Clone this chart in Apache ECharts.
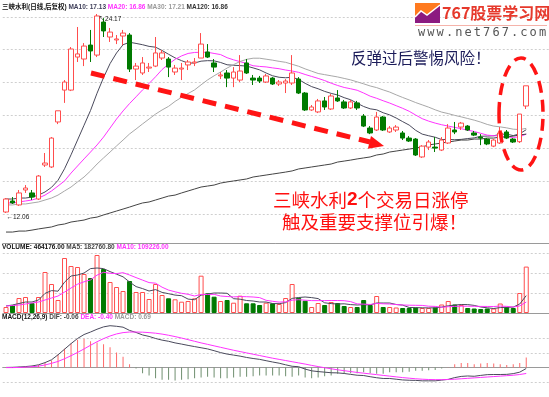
<!DOCTYPE html>
<html>
<head>
<meta charset="utf-8">
<title>三峡水利</title>
<script src="https://cdn.jsdelivr.net/npm/echarts@6.0.0/dist/echarts.min.js"></script>
<style>
html, body { margin: 0; padding: 0; background: #fff; }
#chart { width: 549px; height: 397px; }
</style>
</head>
<body>
<div id="chart"></div>
<script>
// 日K线数据
var kOpen = [
  12.12, 12.79, 12.55, 13.46, 13.28, 12.91, 14.98, 14.86, 17.60, 19.54,
  19.54, 21.55, 21.43, 22.28, 21.67, 23.68, 22.77, 22.59, 22.83, 22.89,
  20.82, 20.58, 20.88, 21.00, 21.49, 21.43, 20.64, 20.82, 21.07, 21.19,
  21.49, 21.86, 21.19, 20.40, 20.58, 20.27, 20.15, 21.19, 20.27, 20.27,
  20.03, 20.27, 19.91, 19.97, 19.97, 20.21, 19.36, 18.33, 18.21, 18.88,
  18.39, 19.06, 18.82, 18.45, 18.76, 17.96, 17.23, 17.11, 17.90, 16.99,
  17.11, 16.93, 16.62, 16.56, 15.47, 16.07, 16.07, 15.89, 16.32, 17.11,
  17.29, 17.35, 16.93, 16.68, 16.56, 16.13, 16.32, 16.99, 16.56, 16.40,
  18.57
];
var kClose = [
  12.91, 12.67, 13.28, 13.58, 13.03, 14.31, 15.10, 16.62, 18.28, 20.03,
  22.04, 21.74, 22.22, 21.92, 24.05, 23.14, 23.07, 22.65, 23.01, 20.82,
  21.00, 21.19, 20.94, 21.80, 21.80, 20.94, 20.88, 20.88, 21.25, 21.25,
  22.34, 21.55, 20.94, 20.46, 20.27, 20.64, 20.70, 20.58, 20.15, 20.09,
  20.40, 19.91, 20.03, 20.09, 20.58, 19.36, 18.33, 18.51, 18.88, 18.51,
  19.18, 18.88, 18.45, 18.82, 18.45, 17.35, 16.93, 17.90, 17.11, 17.23,
  17.29, 16.62, 16.44, 15.59, 16.13, 16.38, 16.01, 16.50, 17.23, 16.99,
  17.53, 17.11, 16.80, 16.62, 16.26, 16.50, 16.93, 16.62, 16.38, 18.08,
  19.80
];
var kLow = [
  12.06, 12.61, 12.49, 13.28, 12.85, 12.85, 14.86, 14.80, 17.47, 18.76,
  19.48, 21.25, 21.00, 21.25, 21.55, 22.77, 22.47, 22.34, 22.28, 20.64,
  20.15, 20.46, 20.64, 20.94, 21.37, 20.33, 20.46, 20.15, 20.76, 21.00,
  21.49, 21.49, 20.64, 20.21, 19.72, 19.72, 20.03, 20.52, 19.85, 19.97,
  19.97, 19.85, 19.79, 19.36, 19.85, 19.30, 18.27, 18.27, 18.14, 18.33,
  18.33, 18.82, 18.39, 18.39, 18.33, 17.29, 16.86, 17.05, 17.05, 16.93,
  16.99, 16.50, 16.38, 15.53, 15.41, 15.89, 15.77, 15.83, 16.26, 16.86,
  17.11, 17.05, 16.74, 16.19, 16.19, 16.07, 16.26, 16.56, 16.32, 16.32,
  18.39
];
var kHigh = [
  12.97, 13.03, 13.46, 13.76, 13.46, 14.37, 15.71, 16.68, 18.28, 20.15,
  22.16, 23.38, 22.40, 23.20, 24.17, 23.92, 23.32, 22.89, 23.20, 23.01,
  21.19, 21.55, 21.19, 22.77, 21.98, 21.55, 21.07, 21.19, 21.37, 21.49,
  23.01, 22.34, 21.43, 20.64, 20.76, 20.94, 21.67, 21.43, 20.46, 20.40,
  20.52, 20.33, 20.15, 20.21, 21.67, 20.33, 19.42, 18.63, 19.00, 19.12,
  19.30, 19.54, 18.94, 18.94, 18.88, 18.08, 17.35, 18.21, 17.96, 17.35,
  17.41, 17.05, 16.74, 16.62, 16.19, 16.50, 16.68, 16.68, 17.47, 17.60,
  17.60, 17.41, 17.05, 16.86, 16.62, 16.56, 17.29, 17.11, 16.62, 18.08,
  19.80
];

// 均线
var ma10 = [
  12.91, 12.91, 12.97, 12.97, 13.03, 13.15, 13.34, 13.62, 14.05, 14.75,
  15.60, 16.50, 17.40, 18.30, 19.35, 20.30, 21.15, 21.80, 22.30, 22.45,
  22.38, 22.30, 22.20, 22.15, 21.95, 21.72, 21.50, 21.33, 21.18, 21.19,
  21.30, 21.33, 21.32, 21.22, 21.08, 21.05, 21.03, 21.00, 20.89, 20.77,
  20.58, 20.41, 20.32, 20.29, 20.32, 20.19, 19.95, 19.75, 19.62, 19.46,
  19.34, 19.24, 19.08, 18.95, 18.74, 18.54, 18.40, 18.34, 18.16, 18.03,
  17.84, 17.62, 17.41, 17.09, 16.86, 16.76, 16.67, 16.53, 16.54, 16.52,
  16.54, 16.59, 16.63, 16.73, 16.74, 16.76, 16.85, 16.86, 16.77, 16.88,
  17.13
];
var ma20 = [
  12.67, 12.67, 12.73, 12.79, 12.85, 12.97, 13.15, 13.40, 13.70, 14.01,
  14.49, 14.92, 15.35, 15.77, 16.20, 16.68, 17.23, 17.78, 18.27, 18.72,
  19.13, 19.55, 19.94, 20.35, 20.79, 21.12, 21.41, 21.62, 21.77, 21.83,
  21.84, 21.84, 21.77, 21.70, 21.51, 21.38, 21.27, 21.16, 21.02, 20.98,
  20.95, 20.89, 20.84, 20.76, 20.70, 20.62, 20.49, 20.37, 20.25, 20.12,
  19.96, 19.82, 19.70, 19.62, 19.53, 19.36, 19.17, 19.04, 18.89, 18.75,
  18.59, 18.43, 18.25, 18.02, 17.80, 17.65, 17.53, 17.43, 17.35, 17.27,
  17.19, 17.10, 17.02, 16.91, 16.80, 16.76, 16.76, 16.69, 16.66, 16.70,
  16.86
];
var ma30 = [
  12.55, 12.55, 12.61, 12.61, 12.67, 12.73, 12.85, 12.97, 13.15, 13.40,
  13.64, 13.95, 14.25, 14.62, 15.04, 15.41, 15.77, 16.14, 16.50, 16.87,
  17.17, 17.48, 17.78, 18.08, 18.33, 18.55, 18.85, 19.10, 19.33, 19.55,
  19.86, 20.16, 20.41, 20.64, 20.88, 21.09, 21.28, 21.41, 21.48, 21.48,
  21.42, 21.36, 21.29, 21.23, 21.11, 20.99, 20.83, 20.69, 20.55, 20.48,
  20.41, 20.34, 20.25, 20.16, 20.04, 19.92, 19.79, 19.69, 19.55, 19.42,
  19.25, 19.09, 18.94, 18.78, 18.64, 18.50, 18.34, 18.20, 18.11, 18.00,
  17.91, 17.81, 17.71, 17.59, 17.45, 17.35, 17.30, 17.24, 17.16, 17.14,
  17.21
];
var ma120 = [
  10.90, 10.90, 10.96, 10.96, 11.02, 11.09, 11.15, 11.21, 11.33, 11.39,
  11.51, 11.57, 11.63, 11.75, 11.81, 11.94, 12.06, 12.18, 12.30, 12.42,
  12.55, 12.67, 12.73, 12.85, 12.97, 13.09, 13.15, 13.28, 13.40, 13.52,
  13.64, 13.70, 13.76, 13.88, 13.95, 14.01, 14.07, 14.13, 14.25, 14.31,
  14.37, 14.43, 14.49, 14.55, 14.62, 14.74, 14.80, 14.86, 14.92, 14.98,
  15.04, 15.16, 15.22, 15.28, 15.35, 15.41, 15.47, 15.59, 15.65, 15.77,
  15.83, 15.89, 15.95, 16.01, 16.08, 16.20, 16.26, 16.32, 16.38, 16.44,
  16.50, 16.50, 16.56, 16.56, 16.62, 16.62, 16.68, 16.68, 16.74, 16.81,
  16.86
];

// 成交量
var volume = [
  60000, 80000, 150000, 160000, 100000, 160000, 410000, 290000, 130000, 550000,
  470000, 460000, 390000, 350000, 580000, 440000, 310000, 260000, 220000, 320000,
  210000, 210000, 140000, 290000, 180000, 147000, 137000, 113000, 120000, 147000,
  373000, 197000, 163000, 120000, 130000, 103000, 173000, 97000, 97000, 80000,
  103000, 97000, 90000, 150000, 290000, 153000, 123000, 60000, 100000, 80000,
  110000, 100000, 70000, 60000, 60000, 130000, 80000, 170000, 60000, 60000,
  55000, 50000, 50000, 55000, 50000, 50000, 55000, 85000, 120000, 85000,
  80000, 50000, 45000, 40000, 45000, 45000, 95000, 60000, 50000, 200000,
  464176
];
var volMa5 = [
  70000, 80000, 95000, 110000, 110000, 130000, 196000, 224000, 218000, 308000,
  370000, 380000, 400000, 444000, 450000, 444000, 414000, 388000, 362000, 310000,
  264000, 244000, 220000, 234000, 206000, 193000, 179000, 173000, 139000, 133000,
  178000, 190000, 200000, 200000, 197000, 143000, 138000, 125000, 120000, 110000,
  110000, 95000, 93000, 104000, 146000, 155000, 160000, 154000, 144000, 102000,
  94000, 90000, 92000, 84000, 80000, 84000, 80000, 100000, 100000, 100000,
  85000, 79000, 55000, 54000, 52000, 51000, 52000, 59000, 72000, 79000,
  85000, 84000, 76000, 60000, 52000, 45000, 54000, 57000, 59000, 90000,
  174000
];
var volMa10 = [
  70000, 75000, 80000, 90000, 100000, 110000, 130000, 150000, 170000, 209000,
  250000, 288000, 312000, 331000, 379000, 407000, 397000, 394000, 403000, 380000,
  354000, 329000, 304000, 298000, 258000, 229000, 212000, 197000, 187000, 170000,
  186000, 185000, 187000, 170000, 165000, 161000, 164000, 163000, 160000, 154000,
  127000, 117000, 109000, 112000, 128000, 133000, 128000, 124000, 124000, 124000,
  125000, 125000, 123000, 114000, 91000, 89000, 85000, 96000, 92000, 90000,
  85000, 80000, 78000, 77000, 76000, 68000, 66000, 57000, 63000, 66000,
  68000, 68000, 67500, 66000, 65500, 65000, 69000, 66500, 59500, 71000,
  109500
];

// MACD(12,26,9)
var dif = [
  0.01, 0.02, 0.04, 0.07, 0.11, 0.19, 0.34, 0.53, 0.87, 1.25,
  1.63, 1.98, 2.25, 2.42, 2.61, 2.77, 2.85, 2.81, 2.75, 2.53,
  2.39, 2.22, 2.12, 1.98, 1.87, 1.79, 1.68, 1.60, 1.51, 1.43,
  1.35, 1.27, 1.15, 1.02, 0.92, 0.85, 0.78, 0.69, 0.62, 0.56,
  0.47, 0.38, 0.30, 0.19, 0.09, 0.06, -0.10, -0.22, -0.27, -0.31,
  -0.35, -0.36, -0.40, -0.46, -0.52, -0.54, -0.62, -0.69, -0.74, -0.74,
  -0.79, -0.84, -0.86, -0.87, -0.90, -0.90, -0.90, -0.85, -0.80, -0.68,
  -0.60, -0.57, -0.59, -0.53, -0.48, -0.47, -0.47, -0.46, -0.41, -0.31,
  -0.06
];
var dea = [
  0, 0, 0.01, 0.03, 0.06, 0.10, 0.18, 0.29, 0.42, 0.60,
  0.81, 1.03, 1.27, 1.52, 1.76, 1.97, 2.15, 2.29, 2.38, 2.42,
  2.42, 2.41, 2.38, 2.34, 2.28, 2.20, 2.11, 2.01, 1.90, 1.79,
  1.68, 1.58, 1.48, 1.38, 1.28, 1.18, 1.09, 1.00, 0.91, 0.82,
  0.73, 0.64, 0.56, 0.48, 0.40, 0.32, 0.24, 0.15, 0.07, -0.01,
  -0.08, -0.15, -0.21, -0.27, -0.33, -0.38, -0.43, -0.48, -0.53, -0.58,
  -0.63, -0.68, -0.72, -0.76, -0.79, -0.81, -0.82, -0.82, -0.81, -0.79,
  -0.76, -0.73, -0.70, -0.67, -0.64, -0.61, -0.58, -0.55, -0.52, -0.47,
  -0.40
];
var macd = [
  0.02, 0.03, 0.05, 0.07, 0.10, 0.18, 0.32, 0.48, 0.89, 1.29,
  1.64, 1.90, 1.96, 1.80, 1.70, 1.59, 1.39, 1.03, 0.73, 0.22,
  -0.06, -0.38, -0.53, -0.73, -0.83, -0.83, -0.87, -0.83, -0.79, -0.73,
  -0.67, -0.63, -0.67, -0.73, -0.73, -0.67, -0.63, -0.63, -0.59, -0.53,
  -0.53, -0.53, -0.53, -0.59, -0.63, -0.53, -0.67, -0.73, -0.67, -0.59,
  -0.53, -0.42, -0.38, -0.38, -0.38, -0.32, -0.38, -0.42, -0.42, -0.32,
  -0.32, -0.32, -0.28, -0.22, -0.22, -0.18, -0.16, -0.06, 0.02, 0.22,
  0.32, 0.32, 0.22, 0.28, 0.32, 0.28, 0.22, 0.18, 0.22, 0.32,
  0.69
];

// 标题文字
var mainTitle = '{t|三峡水利(日线,后复权)} {a|MA10: 17.13} {b|MA20: 16.86} {c|MA30: 17.21} {d|MA120: 16.86}';
var volTitle = '{t|VOLUME: 464176.00} {a|MA5: 182760.80} {b|MA10: 109226.00}';
var macdTitle = '{t|MACD(12,26,9)} {a|DIF: -0.06} {b|DEA: -0.40} {c|MACD: 0.69}';

var FONT = '"Liberation Sans", "Noto Sans CJK SC", sans-serif';
var CJK = '"Noto Sans CJK SC", sans-serif';
var RED = '#ff4d4d';
var GREEN = '#007a00';

var n = kClose.length;
var days = [];
for (var i = 0; i < n; i++) days.push('D' + (i + 1));
days.push('E1', 'E2', 'E3'); // 右侧留白

var kData = [];
var volData = [];
var macdData = [];
for (var i = 0; i < n; i++) {
  var up = kClose[i] >= kOpen[i];
  kData.push([kOpen[i], kClose[i], kLow[i], kHigh[i]]);
  volData.push({
    value: volume[i],
    itemStyle: up ? { color: '#fff', borderColor: RED, borderWidth: 1 }
                  : { color: GREEN, borderColor: GREEN, borderWidth: 1 }
  });
  macdData.push({
    value: macd[i],
    itemStyle: { color: macd[i] >= 0 ? '#ff6a6a' : '#6f8f6f' }
  });
}
var hiIdx = 0, loIdx = 0;
for (var i = 0; i < n; i++) {
  if (kHigh[i] > kHigh[hiIdx]) hiIdx = i;
  if (kLow[i] < kLow[loIdx]) loIdx = i;
}

function richStyle(colors) {
  var r = {};
  for (var k in colors) r[k] = { color: colors[k], fontSize: 6.5, fontFamily: FONT };
  return r;
}

var dotted = { color: '#cfcfcf', type: [2, 2], width: 1 };

function hiddenX(grid) {
  return {
    type: 'category', gridIndex: grid, data: days, boundaryGap: true,
    axisLine: { show: false }, axisTick: { show: false }, axisLabel: { show: false },
    splitLine: { show: false }
  };
}
function lineX(grid, pos, onZero) {
  return {
    type: 'category', gridIndex: grid, data: days, boundaryGap: true, position: pos,
    axisLine: { show: true, onZero: onZero, lineStyle: { color: '#9a9a9a', width: 1 } },
    axisTick: { show: false }, axisLabel: { show: false }, splitLine: { show: false }
  };
}
function valueY(grid, min, max, interval) {
  return {
    type: 'value', gridIndex: grid, min: min, max: max, interval: interval,
    axisLine: { show: false }, axisTick: { show: false }, axisLabel: { show: false },
    splitLine: { show: true, showMinLine: false, showMaxLine: false, lineStyle: dotted }
  };
}
function maLine(name, data, color, xi, yi) {
  return {
    name: name, type: 'line', data: data, xAxisIndex: xi, yAxisIndex: yi,
    showSymbol: false, symbol: 'none', smooth: false,
    lineStyle: { color: color, width: 1 }, z: 3
  };
}

// 网站标志
var site = 'www.net767.com';
var logo = [
  { type: 'rect', shape: { x: 415, y: 3, width: 25, height: 20 }, style: { fill: '#ff7a1f' }, z: 100 },
  { type: 'polygon', shape: { points: [[415, 23], [415, 17], [421, 11], [427, 15], [440, 5], [440, 23]] },
    style: { fill: '#8c1a80' }, z: 100 },
  { type: 'polyline', shape: { points: [[415, 17], [421, 11], [427, 15], [440, 5]] },
    style: { stroke: '#fff', lineWidth: 1.5, fill: null }, z: 101 },
  { type: 'text', x: 442, y: 13, z: 100,
    style: { text: '767股票学习网', fill: '#e6392c', font: 'bold 16px ' + CJK,
             textAlign: 'left', textVerticalAlign: 'middle', align: 'left', verticalAlign: 'middle' } },
  { type: 'line', shape: { x1: 415, y1: 25.5, x2: 547, y2: 25.5 }, style: { stroke: '#f5b3aa', lineWidth: 1 }, z: 100 }
];
for (var i = 0; i < site.length; i++) {
  logo.push({
    type: 'text', x: 418 + i * 9.3, y: 33, z: 100,
    style: { text: site.charAt(i), fill: '#555', font: '12px "DejaVu Sans Mono", monospace',
             textVerticalAlign: 'middle', verticalAlign: 'middle' }
  });
}

var notes = [
  // 红色虚线箭头
  { type: 'line', shape: { x1: 91, y1: 73, x2: 370, y2: 142 },
    style: { stroke: '#ff1414', lineWidth: 5, lineDash: [14, 9] }, z: 100 },
  { type: 'polygon', shape: { points: [[384, 146], [367.9, 148.7], [371, 136]] },
    style: { fill: '#ff1414' }, z: 100 },
  // 红色虚线椭圆
  { type: 'ellipse', shape: { cx: 521, cy: 114, rx: 22, ry: 56 },
    style: { fill: null, stroke: '#ff1414', lineWidth: 3.5, lineDash: [12, 7] }, z: 100 },
  { type: 'text', x: 351, y: 58, z: 100,
    style: { text: '反弹过后警惕风险！', fill: '#1c1c5a', font: '15.5px ' + CJK,
             textVerticalAlign: 'middle', verticalAlign: 'middle' } },
  { type: 'text', x: 273, y: 200, z: 100,
    style: {
      text: '{a|三峡水利}{b|2}{a|个交易日涨停}', textVerticalAlign: 'middle', verticalAlign: 'middle',
      rich: {
        a: { fill: '#ff0f0f', color: '#ff0f0f', fontSize: 18.5, fontFamily: CJK },
        b: { fill: '#ff0f0f', color: '#ff0f0f', fontSize: 19, fontWeight: 'bold', fontFamily: '"Liberation Sans", sans-serif' }
      }
    } },
  { type: 'text', x: 282, y: 222, z: 100,
    style: { text: '触及重要支撑位引爆！', fill: '#ff0f0f', font: '18.5px ' + CJK,
             textVerticalAlign: 'middle', verticalAlign: 'middle' } }
];

var option = {
  animation: false,
  backgroundColor: '#fff',
  textStyle: { fontFamily: FONT },
  title: [
    { text: mainTitle, left: 2, top: 4, padding: 0,
      textStyle: { fontSize: 6.5, rich: richStyle({ t: '#111', a: '#40405a', b: '#ff33ff', c: '#9a9a9a', d: '#333' }) } },
    { text: volTitle, left: 2, top: 243.5, padding: 0,
      textStyle: { fontSize: 6.5, rich: richStyle({ t: '#111', a: '#444', b: '#ff33ff' }) } },
    { text: macdTitle, left: 2, top: 314, padding: 0,
      textStyle: { fontSize: 6.5, rich: richStyle({ t: '#111', a: '#444', b: '#ff33ff', c: '#9a9a9a' }) } }
  ],
  grid: [
    { left: 2.75, right: 0, top: 6.94, height: 239.9 },
    { left: 2.75, right: 0, top: 243, height: 70 },
    { left: 2.75, right: 0, top: 323.5, height: 82.5 }
  ],
  xAxis: [
    hiddenX(0),
    lineX(1, 'bottom', false),
    lineX(1, 'top', false),
    lineX(2, 'bottom', true)
  ],
  yAxis: [
    valueY(0, 10, 24.6, 2),
    valueY(1, 0, 700000, 200000),
    valueY(2, -2, 3, 1)
  ],
  series: [
    {
      name: 'K', type: 'candlestick', data: kData, xAxisIndex: 0, yAxisIndex: 0,
      barWidth: 5, z: 4,
      itemStyle: { color: '#fff', color0: GREEN, borderColor: RED, borderColor0: GREEN, borderWidth: 1 },
      markPoint: {
        symbol: 'circle', symbolSize: 1, itemStyle: { color: 'rgba(0,0,0,0)' },
        label: { show: true, position: 'right', distance: 1, color: '#222', fontSize: 6.5, fontFamily: FONT },
        data: [
          { coord: [days[hiIdx], kHigh[hiIdx]], label: { formatter: '↖' + kHigh[hiIdx].toFixed(2), offset: [0, 5] } },
          { coord: [days[loIdx], kLow[loIdx]], label: { formatter: '←' + kLow[loIdx].toFixed(2), offset: [-1, 4] } }
        ]
      }
    },
    maLine('MA10', ma10, '#4a4a5c', 0, 0),
    maLine('MA20', ma20, '#ff33ff', 0, 0),
    maLine('MA30', ma30, '#a8a8a8', 0, 0),
    maLine('MA120', ma120, '#444', 0, 0),
    { name: 'VOL', type: 'bar', data: volData, xAxisIndex: 1, yAxisIndex: 1, barWidth: 5, z: 2 },
    maLine('VMA5', volMa5, '#4a4a5c', 1, 1),
    maLine('VMA10', volMa10, '#ff33ff', 1, 1),
    { name: 'MACD', type: 'bar', data: macdData, xAxisIndex: 3, yAxisIndex: 2, barWidth: 1, z: 2 },
    maLine('DIF', dif, '#4a4a5c', 3, 2),
    maLine('DEA', dea, '#ff33ff', 3, 2)
  ],
  graphic: logo.concat(notes)
};

var myChart = echarts.init(document.getElementById('chart'));
myChart.setOption(option);
</script>
</body>
</html>
